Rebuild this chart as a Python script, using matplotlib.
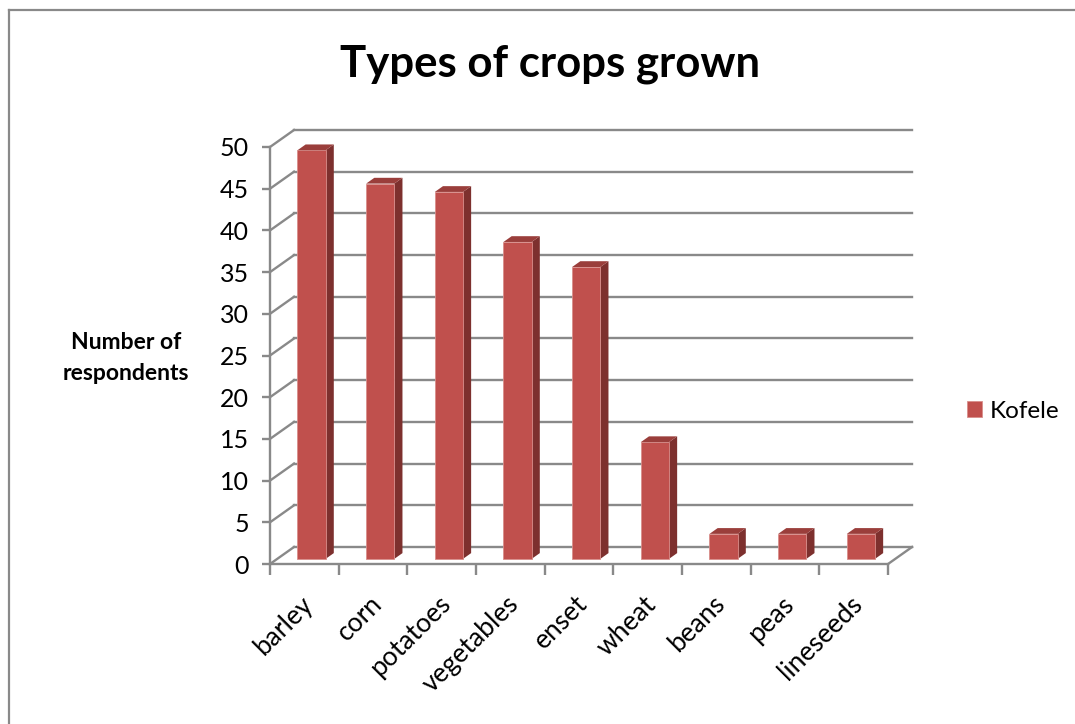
import matplotlib
matplotlib.use("Agg")
import matplotlib.pyplot as plt
from matplotlib.patches import Polygon
from matplotlib.transforms import ScaledTranslation

plt.rcParams["font.family"] = ["Lato", "DejaVu Sans"]

# Data
crops = ["barley", "corn", "potatoes", "vegetables", "enset", "wheat", "beans", "peas", "lineseeds"]
kofele = [49, 45, 44, 38, 35, 14, 3, 3, 3]
series_name = "Kofele"
title = "Types of crops grown"
ylabel = "Number of\nrespondents"
yticks = list(range(0, 51, 5))

# Colours
front_c = "#C0504D"
side_c = "#7D302E"
top_c = "#9A3E3B"
grid_c = "#898989"

W, H = 1075, 724
fig = plt.figure(figsize=(W / 100, H / 100), dpi=100)

# Pseudo-3D depth, in data units
DX = 0.35     # horizontal depth shift (category units)
DY = 2.04     # vertical depth shift (value units)
ymax = 50
n = len(crops)

# Axes: front plane spans x 0..n, y 0..ymax; back wall adds DX / DY
px_left, px_right = 270, 270 + (n + DX) * 68.67
px_bottom, px_top = 564, 564 - (ymax + DY) * 8.34
ax = fig.add_axes([px_left / W, 1 - px_bottom / H,
                   (px_right - px_left) / W, (px_bottom - px_top) / H])
ax.set_xlim(0, n + DX)
ax.set_ylim(0, ymax + DY)
for s in ax.spines.values():
    s.set_visible(False)
ax.patch.set_alpha(0)

glw = 1.7
# back wall gridlines and left-wall diagonals
for v in yticks:
    ax.plot([DX, n + DX], [v + DY, v + DY], color=grid_c, lw=glw, zorder=1, clip_on=False)
    ax.plot([0, DX], [v, v + DY], color=grid_c, lw=glw, zorder=1, clip_on=False)
# front vertical axis and front floor edge, right floor edge
ax.plot([0, 0], [0, ymax], color=grid_c, lw=glw, zorder=1, clip_on=False)
ax.plot([0, n], [0, 0], color=grid_c, lw=glw, zorder=1, clip_on=False)
ax.plot([n, n + DX], [0, DY], color=grid_c, lw=glw, zorder=1, clip_on=False)

# Bars: front face, side face, top face
f0, f1 = 0.30, 0.64      # bar front / back depth fractions
bw = 0.41                # bar width in category units
centers = [i + 0.5 for i in range(n)]
xs = [c + f0 * DX for c in centers]
base = f0 * DY
bars = ax.bar(xs, kofele, width=bw, bottom=base, color=front_c,
              edgecolor="#D98E8B", linewidth=0.6, zorder=3, label=series_name)
dd = f1 - f0
for x, v in zip(xs, kofele):
    xl, xr = x - bw / 2, x + bw / 2
    top = base + v
    side = Polygon([(xr, base), (xr + dd * DX, base + dd * DY),
                    (xr + dd * DX, top + dd * DY), (xr, top)],
                   closed=True, facecolor=side_c, edgecolor="none", zorder=2)
    cap = Polygon([(xl, top), (xr, top), (xr + dd * DX, top + dd * DY),
                   (xl + dd * DX, top + dd * DY)],
                  closed=True, facecolor=top_c, edgecolor="none", zorder=4)
    ax.add_patch(side)
    ax.add_patch(cap)

# Y ticks
ax.set_yticks(yticks)
ax.set_yticklabels([str(v) for v in yticks], fontsize=18)
ax.tick_params(axis="y", length=6, width=glw, color=grid_c, pad=9)

# X ticks: marks at category edges, labels at centres
ax.set_xticks(range(n + 1), minor=True)
ax.set_xticks(centers)
ax.set_xticklabels(crops, fontsize=19, rotation=45, ha="right", va="center",
                   rotation_mode="anchor")
ax.tick_params(axis="x", which="minor", length=8, width=glw, color=grid_c, direction="out")
ax.tick_params(axis="x", which="major", length=0, pad=26)
shift = ScaledTranslation(5 / 100, 0, fig.dpi_scale_trans)
for lab in ax.get_xticklabels():
    lab.set_transform(lab.get_transform() + shift)

# Title, axis label, legend
fig.text(550 / W, 1 - 64 / H, title, ha="center", va="center",
         fontsize=31.5, fontweight="bold")
fig.text(126 / W, 1 - 358 / H, ylabel, ha="center", va="center",
         fontsize=16.5, fontweight="bold", linespacing=1.55)
fig.legend(handles=[bars], labels=[series_name], loc="center left",
           bbox_to_anchor=(967 / W, 1 - 411 / H), frameon=False, fontsize=17.5,
           handlelength=0.6, handleheight=0.6, handletextpad=0.35,
           borderpad=0, borderaxespad=0)

# Chart frame
fig.add_artist(plt.Line2D([9 / W, 9 / W], [0, 1 - 10 / H], color=grid_c, lw=1.6))
fig.add_artist(plt.Line2D([9 / W, 1], [1 - 10 / H, 1 - 10 / H], color=grid_c, lw=1.6))

fig.savefig("out.png", dpi=100, facecolor="white")
